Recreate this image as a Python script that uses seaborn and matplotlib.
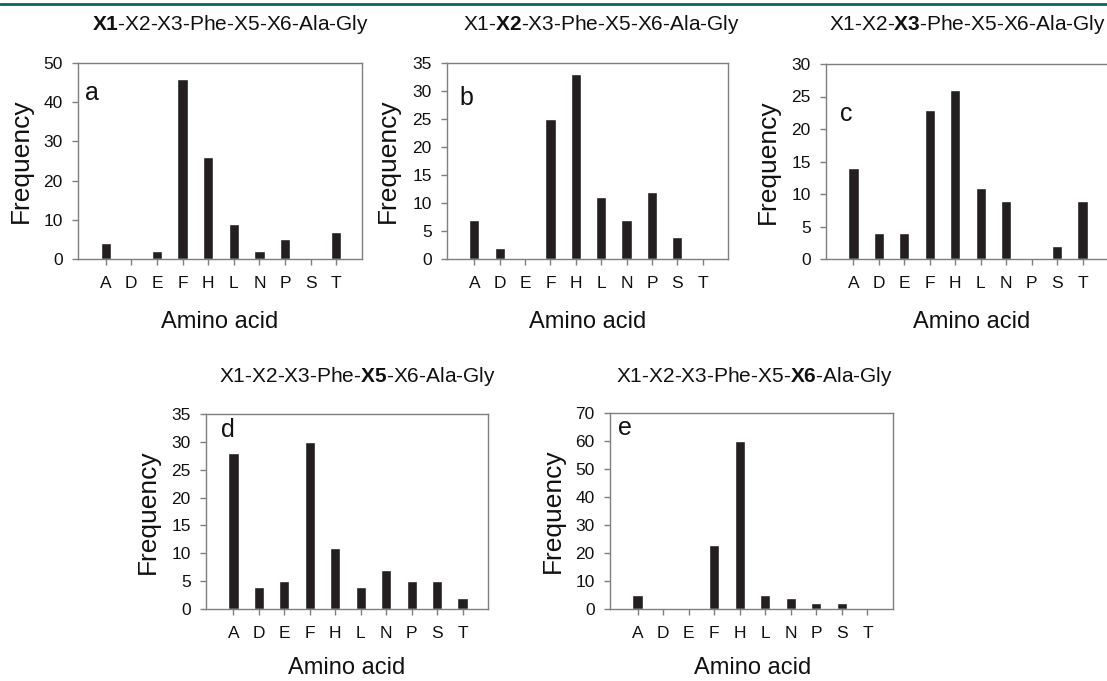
import matplotlib
matplotlib.use("Agg")
import matplotlib.pyplot as plt
import seaborn as sns
import pandas as pd
from matplotlib.lines import Line2D

sns.set_theme(style="white")
plt.rcParams['font.family'] = ['Liberation Sans', 'DejaVu Sans']
plt.rcParams['mathtext.fontset'] = 'custom'
plt.rcParams['mathtext.rm'] = 'Liberation Sans'
plt.rcParams['mathtext.bf'] = 'Liberation Sans:bold'

amino_acids = ["A", "D", "E", "F", "H", "L", "N", "P", "S", "T"]
freq_a = [4, 0, 2, 46, 26, 9, 2, 5, 0, 7]
freq_b = [7, 2, 0, 25, 33, 11, 7, 12, 4, 0]
freq_c = [14, 4, 4, 23, 26, 11, 9, 0, 2, 9]
freq_d = [28, 4, 5, 30, 11, 4, 7, 5, 5, 2]
freq_e = [5, 0, 0, 23, 60, 5, 4, 2, 2, 0]

titles = [
    r"$\mathbf{X1}$-X2-X3-Phe-X5-X6-Ala-Gly",
    r"X1-$\mathbf{X2}$-X3-Phe-X5-X6-Ala-Gly",
    r"X1-X2-$\mathbf{X3}$-Phe-X5-X6-Ala-Gly",
    r"X1-X2-X3-Phe-$\mathbf{X5}$-X6-Ala-Gly",
    r"X1-X2-X3-Phe-X5-$\mathbf{X6}$-Ala-Gly",
]
panel_letters = ["a", "b", "c", "d", "e"]
y_max = [50, 35, 30, 35, 70]
y_step = [10, 5, 5, 5, 10]

W, H = 1107, 681
fig = plt.figure(figsize=(W / 100, H / 100), dpi=100)

# pixel boxes: left, right, top, bottom
boxes = [
    (78, 362, 63, 259),
    (447, 728, 63, 259),
    (826, 1108, 64, 259),
    (206, 488, 414, 609),
    (610, 893, 413, 609),
]
title_pos = [(230, 25), (601, 25), (967, 25), (357, 377), (754, 377)]
ylab_x = [21, 388, 768, 148, 553]
xlab_pos = [(220, 322), (588, 322), (972, 322), (347, 668), (753, 668)]
# letter offsets (x from left, baseline from top), pixels
letter_off = [(7, 37), (12, 42), (14, 57), (15, 23), (8, 22)]

data = [freq_a, freq_b, freq_c, freq_d, freq_e]
grey = "#7f7f7f"
ink = "#111111"

for i in range(5):
    l, r, t, b = boxes[i]
    ax = fig.add_axes([l / W, 1 - b / H, (r - l) / W, (b - t) / H])
    df = pd.DataFrame({"aa": amino_acids, "freq": data[i]})
    sns.barplot(data=df, x="aa", y="freq", color="#231f20", saturation=1,
                width=0.4, ax=ax)
    ax.set_xlim(-1.08, 10.0)
    ax.set_ylim(0, y_max[i])
    ax.set_yticks(list(range(0, y_max[i] + 1, y_step[i])))
    ax.set_xlabel("")
    ax.set_ylabel("")
    for s in ax.spines.values():
        s.set_color(grey)
        s.set_linewidth(1.0)
    ax.tick_params(axis="x", which="major", bottom=True, length=4, width=1,
                   color=grey, pad=8, labelsize=12.5, labelcolor=ink)
    ax.tick_params(axis="y", which="major", left=True, length=4, width=1,
                   color=grey, pad=7, labelsize=12.5, labelcolor=ink)
    lx, ly = letter_off[i]
    ax.text(lx / (r - l), 1 - ly / (b - t), panel_letters[i],
            transform=ax.transAxes, fontsize=18, ha="left", va="baseline",
            color=ink)

    tx, ty = title_pos[i]
    fig.text(tx / W, 1 - ty / H, titles[i], fontsize=15, ha="center",
             va="center", color=ink)
    fig.text(ylab_x[i] / W, 1 - ((t + b) / 2) / H, "Frequency", fontsize=19,
             rotation=90, ha="center", va="center", color=ink)
    xx, xy = xlab_pos[i]
    fig.text(xx / W, 1 - xy / H, "Amino acid", fontsize=17, ha="center",
             va="center", color=ink)

# top rule line
fig.add_artist(Line2D([0, 1], [1 - 4 / H, 1 - 4 / H], transform=fig.transFigure,
                      color="#006a60", linewidth=2))

fig.savefig("out.png", dpi=100)
